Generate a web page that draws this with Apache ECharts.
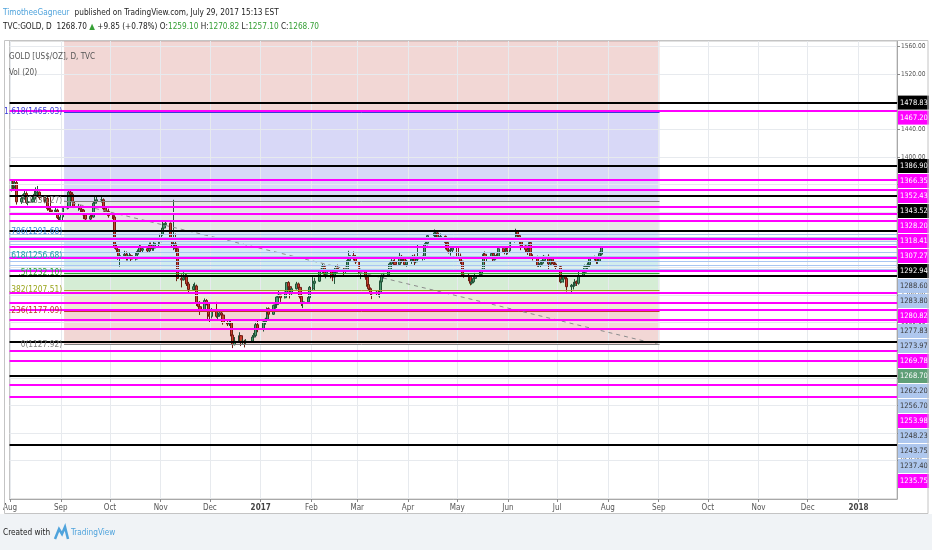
<!DOCTYPE html>
<html>
<head>
<meta charset="utf-8">
<title>TVC:GOLD, D</title>
<script src="https://cdn.jsdelivr.net/npm/echarts@6/dist/echarts.min.js"></script>
<style>
  html, body { margin: 0; padding: 0; background: #fff; }
  #chart { width: 932px; height: 550px; }
</style>
</head>
<body>
<div id="chart"></div>
<script>
// TVC:GOLD daily bars, Aug 2016 - Jul 2017
const dates = [
  '2016-08-02','2016-08-03','2016-08-04','2016-08-05','2016-08-08','2016-08-09','2016-08-10','2016-08-11','2016-08-12','2016-08-15','2016-08-16','2016-08-17','2016-08-18','2016-08-19','2016-08-22','2016-08-23','2016-08-24','2016-08-25','2016-08-26','2016-08-29','2016-08-30','2016-08-31',
  '2016-09-01','2016-09-02','2016-09-05','2016-09-06','2016-09-07','2016-09-08','2016-09-09','2016-09-12','2016-09-13','2016-09-14','2016-09-15','2016-09-16','2016-09-19','2016-09-20','2016-09-21','2016-09-22','2016-09-23','2016-09-26','2016-09-27','2016-09-28','2016-09-29','2016-09-30',
  '2016-10-03','2016-10-04','2016-10-05','2016-10-06','2016-10-07','2016-10-10','2016-10-11','2016-10-12','2016-10-13','2016-10-14','2016-10-17','2016-10-18','2016-10-19','2016-10-20','2016-10-21','2016-10-24','2016-10-25','2016-10-26','2016-10-27','2016-10-28','2016-10-31',
  '2016-11-01','2016-11-02','2016-11-03','2016-11-04','2016-11-07','2016-11-08','2016-11-09','2016-11-10','2016-11-11','2016-11-14','2016-11-15','2016-11-16','2016-11-17','2016-11-18','2016-11-21','2016-11-22','2016-11-23','2016-11-24','2016-11-25','2016-11-28','2016-11-29','2016-11-30',
  '2016-12-01','2016-12-02','2016-12-05','2016-12-06','2016-12-07','2016-12-08','2016-12-09','2016-12-12','2016-12-13','2016-12-14','2016-12-15','2016-12-16','2016-12-19','2016-12-20','2016-12-21','2016-12-22','2016-12-23','2016-12-27','2016-12-28','2016-12-29','2016-12-30',
  '2017-01-03','2017-01-04','2017-01-05','2017-01-06','2017-01-09','2017-01-10','2017-01-11','2017-01-12','2017-01-13','2017-01-16','2017-01-17','2017-01-18','2017-01-19','2017-01-20','2017-01-23','2017-01-24','2017-01-25','2017-01-26','2017-01-27','2017-01-30','2017-01-31',
  '2017-02-01','2017-02-02','2017-02-03','2017-02-06','2017-02-07','2017-02-08','2017-02-09','2017-02-10','2017-02-13','2017-02-14','2017-02-15','2017-02-16','2017-02-17','2017-02-21','2017-02-22','2017-02-23','2017-02-24','2017-02-27','2017-02-28',
  '2017-03-01','2017-03-02','2017-03-03','2017-03-06','2017-03-07','2017-03-08','2017-03-09','2017-03-10','2017-03-13','2017-03-14','2017-03-15','2017-03-16','2017-03-17','2017-03-20','2017-03-21','2017-03-22','2017-03-23','2017-03-24','2017-03-27','2017-03-28','2017-03-29','2017-03-30','2017-03-31',
  '2017-04-03','2017-04-04','2017-04-05','2017-04-06','2017-04-07','2017-04-10','2017-04-11','2017-04-12','2017-04-13','2017-04-17','2017-04-18','2017-04-19','2017-04-20','2017-04-21','2017-04-24','2017-04-25','2017-04-26','2017-04-27','2017-04-28',
  '2017-05-01','2017-05-02','2017-05-03','2017-05-04','2017-05-05','2017-05-08','2017-05-09','2017-05-10','2017-05-11','2017-05-12','2017-05-15','2017-05-16','2017-05-17','2017-05-18','2017-05-19','2017-05-22','2017-05-23','2017-05-24','2017-05-25','2017-05-26','2017-05-29','2017-05-30','2017-05-31',
  '2017-06-01','2017-06-02','2017-06-05','2017-06-06','2017-06-07','2017-06-08','2017-06-09','2017-06-12','2017-06-13','2017-06-14','2017-06-15','2017-06-16','2017-06-19','2017-06-20','2017-06-21','2017-06-22','2017-06-23','2017-06-26','2017-06-27','2017-06-28','2017-06-29','2017-06-30',
  '2017-07-03','2017-07-04','2017-07-05','2017-07-06','2017-07-07','2017-07-10','2017-07-11','2017-07-12','2017-07-13','2017-07-14','2017-07-17','2017-07-18','2017-07-19','2017-07-20','2017-07-21','2017-07-24','2017-07-25','2017-07-26','2017-07-27','2017-07-28'
];
const opens = [
  1352,1367,1357,1363,1335,1340,1340,1347,1334,1335,1339,1346,1349,1349,1341,1338,1340,1325,1323,1321,1323,1312,
  1308,1313,1326,1327,1349,1346,1335,1328,1328,1324,1323,1316,1310,1314,1313,1333,1336,1338,1338,1325,1322,1321,
  1315,1313,1269,1266,1253,1257,1259,1254,1254,1257,1252,1259,1263,1269,1265,1267,1264,1273,1267,1268,1275,
  1277,1288,1297,1302,1304,1280,1274,1274,1267,1224,1222,1225,1227,1216,1208,1212,1213,1188,1183,1179,1192,1189,
  1171,1169,1177,1169,1171,1174,1171,1160,1158,1160,1142,1128,1133,1141,1131,1133,1131,1133,1139,1141,1157,
  1151,1161,1165,1180,1172,1185,1186,1197,1200,1196,1203,1218,1212,1202,1209,1216,1211,1198,1189,1190,1196,
  1211,1209,1217,1220,1234,1236,1241,1230,1234,1227,1226,1233,1240,1238,1234,1237,1250,1257,1254,
  1248,1248,1233,1234,1226,1215,1209,1203,1202,1204,1203,1219,1227,1229,1234,1245,1249,1248,1244,1256,1252,1253,1244,
  1249,1252,1256,1248,1252,1254,1254,1273,1275,1286,1290,1290,1280,1283,1285,1276,1265,1264,1265,
  1268,1255,1256,1249,1229,1228,1227,1217,1219,1224,1228,1230,1236,1259,1253,1254,1260,1251,1257,1256,1267,1263,1262,
  1268,1264,1279,1280,1293,1286,1279,1271,1266,1263,1276,1255,1254,1243,1243,1246,1250,1256,1245,1251,1248,1245,
  1241,1219,1223,1226,1224,1212,1214,1214,1219,1217,1228,1233,1241,1241,1244,1254,1254,1249,1249,1259.10
];
const highs = [
  1368,1368,1366,1367,1343,1346,1352,1350,1344,1342,1353,1356,1358,1350,1343,1343,1342,1328,1342,1326,1325,1316,
  1318,1329,1331,1352,1351,1349,1341,1332,1330,1328,1324,1318,1317,1318,1335,1343,1342,1342,1340,1328,1327,1325,
  1318,1315,1274,1268,1266,1264,1263,1260,1262,1259,1261,1266,1273,1272,1270,1268,1276,1276,1272,1284,1279,
  1292,1306,1304,1308,1305,1289,1338,1289,1268,1230,1233,1231,1230,1219,1216,1218,1215,1190,1191,1195,1194,1191,
  1175,1181,1190,1175,1179,1178,1173,1164,1165,1164,1145,1139,1146,1142,1136,1135,1136,1142,1145,1161,1164,
  1163,1167,1182,1182,1186,1188,1198,1207,1200,1205,1218,1220,1213,1211,1219,1218,1213,1199,1192,1197,1213,
  1213,1226,1225,1236,1238,1245,1244,1236,1236,1233,1236,1243,1244,1240,1241,1252,1264,1263,1258,
  1252,1249,1238,1235,1230,1217,1211,1209,1206,1206,1221,1230,1232,1236,1247,1252,1251,1252,1261,1258,1256,1254,1251,
  1255,1258,1259,1255,1273,1257,1275,1279,1288,1295,1291,1291,1286,1289,1286,1279,1270,1268,1270,
  1270,1259,1260,1250,1237,1231,1228,1222,1226,1232,1236,1238,1261,1263,1257,1262,1262,1260,1260,1269,1268,1267,1270,
  1270,1281,1284,1296,1294,1288,1282,1272,1269,1281,1277,1259,1257,1247,1250,1253,1258,1259,1256,1253,1252,1247,
  1242,1225,1228,1228,1225,1216,1219,1223,1221,1234,1237,1244,1244,1247,1256,1257,1256,1252,1263,1270.82
];
const lows = [
  1350,1352,1354,1331,1332,1335,1338,1332,1330,1334,1337,1341,1344,1338,1333,1335,1322,1320,1318,1318,1310,1306,
  1306,1308,1324,1325,1342,1333,1326,1322,1320,1320,1310,1306,1308,1310,1312,1330,1333,1334,1321,1318,1316,1312,
  1310,1267,1262,1251,1241,1254,1250,1250,1252,1249,1250,1256,1261,1262,1262,1261,1262,1264,1264,1264,1270,
  1275,1286,1293,1297,1278,1271,1265,1262,1220,1211,1221,1220,1213,1203,1206,1207,1184,1180,1171,1178,1185,1165,
  1160,1166,1167,1164,1169,1166,1157,1155,1155,1140,1123,1127,1131,1126,1129,1124,1129,1131,1135,1139,1146,
  1147,1157,1163,1168,1171,1180,1181,1192,1190,1195,1201,1205,1195,1199,1208,1207,1195,1184,1181,1187,1195,
  1201,1207,1207,1219,1228,1232,1226,1224,1224,1220,1216,1232,1233,1229,1232,1235,1248,1250,1245,
  1240,1230,1223,1222,1212,1206,1200,1194,1199,1198,1196,1216,1224,1227,1231,1242,1244,1242,1243,1246,1248,1243,1241,
  1245,1250,1243,1246,1250,1250,1251,1269,1272,1281,1282,1277,1278,1280,1266,1263,1260,1257,1262,
  1253,1252,1245,1226,1225,1220,1214,1215,1217,1221,1226,1228,1235,1245,1249,1252,1248,1250,1252,1255,1261,1259,1258,
  1259,1262,1276,1279,1283,1272,1265,1261,1258,1260,1252,1250,1241,1240,1240,1244,1247,1237,1243,1244,1242,1237,
  1217,1218,1218,1220,1205,1204,1208,1212,1213,1215,1227,1232,1236,1234,1243,1250,1245,1245,1248,1257.10
];
const closes = [
  1367,1357,1363,1335,1340,1340,1347,1334,1335,1339,1346,1349,1349,1341,1338,1340,1325,1323,1321,1323,1312,1308,
  1313,1326,1327,1349,1346,1335,1328,1328,1324,1323,1316,1310,1314,1313,1333,1336,1338,1338,1325,1322,1321,1315,
  1313,1269,1266,1253,1257,1259,1254,1254,1257,1252,1259,1263,1269,1265,1267,1264,1273,1267,1268,1275,1277,
  1288,1297,1302,1304,1280,1274,1274,1267,1224,1222,1225,1227,1216,1208,1212,1213,1188,1183,1179,1192,1189,1171,
  1169,1177,1169,1171,1174,1171,1160,1158,1160,1142,1128,1133,1141,1131,1133,1131,1133,1139,1141,1157,1151,
  1161,1165,1180,1172,1185,1186,1197,1200,1196,1203,1218,1212,1202,1209,1216,1211,1198,1189,1190,1196,1211,
  1209,1217,1220,1234,1236,1241,1230,1234,1227,1226,1233,1240,1238,1234,1237,1250,1257,1254,1248,
  1248,1233,1234,1226,1215,1209,1203,1202,1204,1203,1219,1227,1229,1234,1245,1249,1248,1244,1256,1252,1253,1244,1249,
  1252,1256,1248,1252,1254,1254,1273,1275,1286,1290,1290,1280,1283,1285,1276,1265,1264,1265,1268,
  1255,1256,1249,1229,1228,1227,1217,1219,1224,1228,1230,1236,1259,1253,1254,1260,1251,1257,1256,1267,1263,1262,1268,
  1264,1279,1280,1293,1286,1279,1271,1266,1263,1276,1255,1254,1243,1243,1246,1250,1256,1245,1251,1248,1245,1241,
  1219,1223,1226,1224,1212,1214,1214,1219,1217,1228,1233,1241,1241,1244,1254,1254,1249,1249,1260,1268.70
];

// horizontal levels drawn on the chart
const blackLevels = [1478.83, 1386.90, 1343.52, 1292.94, 1227.40, 1132.20, 1083.00, 982.60];
const magentaLevels = [1467.20, 1366.35, 1352.43, 1328.20, 1318.41, 1307.27, 1280.82, 1269.78, 1253.98, 1235.75,
  1203.30, 1188.80, 1178.30, 1163.80, 1151.70, 1119.30, 1104.30, 1069.60, 1052.60];
const blueLevels = [1288.60, 1283.80, 1277.83, 1273.97, 1262.20, 1256.70, 1248.23, 1243.75, 1237.40];
const lastClose = 1268.70;

// fib retracement
const fibRatios = [0, 0.236, 0.382, 0.5, 0.618, 0.786, 1, 1.618, 2.618];
const fibLow = 1127.92;
const fibHigh = 1336.27;
const fibStart = '2016-09-03';
const fibEnd = '2017-09-01 12:00';

// axis ticks
const yTicks = [1560, 1520, 1480, 1440, 1400, 1360, 1320, 1280, 1240, 1200, 1160, 1120, 1080, 1040, 1000, 960];
const monthTicks = ['2016-08-01','2016-09-01','2016-10-01','2016-11-01','2016-12-01','2017-01-01','2017-02-01',
  '2017-03-01','2017-04-01','2017-05-01','2017-06-01','2017-07-01','2017-08-01','2017-09-01','2017-10-01',
  '2017-11-01','2017-12-01','2018-01-01'];
const monthNames = ['Jan','Feb','Mar','Apr','May','Jun','Jul','Aug','Sep','Oct','Nov','Dec'];

// pick the narrowest installed face, then size texts to the widths seen in the picture
const measureCtx = document.createElement('canvas').getContext('2d');
function hasFont(name) {
  const probe = 'mmmmmmmmmlli 1234567890';
  measureCtx.font = '20px monospace';
  const base = measureCtx.measureText(probe).width;
  measureCtx.font = '20px "' + name + '", monospace';
  return measureCtx.measureText(probe).width !== base;
}
const FAMILY = ['Liberation Sans Narrow', 'DejaVu Sans Condensed', 'Liberation Sans', 'Roboto'].find(hasFont) || 'sans-serif';
const FONT = '"' + FAMILY + '", sans-serif';
function fit(text, width, weight) {
  measureCtx.font = (weight || 'normal') + ' 20px ' + FONT;
  return Math.round(200 * width / measureCtx.measureText(text).width) / 10;
}
const fsHead = fit('TimotheeGagneur published on TradingView.com, July 29, 2017 15:13 EST', 272);
const fsPrice = fit('1478.83', 28);
const fsTick = fit('1560.00', 24.5);
const fsTime = fit('2017', 20, 'bold');
const fsFib = fit('1.618(1465.03)', 58);
const fsLegend = fit('GOLD [US$/OZ], D, TVC', 86);
const fsFoot = fit('Created with', 47);

const Y_MIN = 904.3, Y_MAX = 1568.1;
const X_MIN = '2016-07-31 17:00', X_MAX = '2018-01-24 12:00';
const LABEL_H = 15;

const T = s => +echarts.time.parse(s);
const monthTs = monthTicks.map(T);

const fibColors = ['#808080', '#c0392b', '#9aa51c', '#2ea52e', '#1ea5a5', '#3d8bd9', '#808080', '#3b3bd9', '#c0392b'];
const fibLevels = fibRatios.map(r => fibLow + r * (fibHigh - fibLow));
const ratioText = r => (r > 0 && r < 1) ? String(r).replace(/^0/, '') : String(r);

const levelItems = [].concat(
  blackLevels.map(v => ({ v, kind: 'black' })),
  magentaLevels.map(v => ({ v, kind: 'magenta' })),
  blueLevels.map(v => ({ v, kind: 'blue' })),
  [{ v: lastClose, kind: 'last' }]
);
const kindStyle = {
  black:   { line: '#000000', width: 2, bg: '#000000', fg: '#ffffff' },
  magenta: { line: '#ff00ff', width: 2, bg: '#ff00ff', fg: '#ffffff' },
  blue:    { line: '#a9c6f2', width: 1, bg: '#aec7ee', fg: '#3a3a3a' },
  last:    { line: 'rgba(0,0,0,0)', width: 1, bg: '#5f9f77', fg: '#ffffff' }
};

function levelLineData(shift) {
  return levelItems.map((it, i) => {
    const s = kindStyle[it.kind];
    const dy = shift ? shift[i] : null;
    return {
      yAxis: it.v,
      lineStyle: { color: s.line, width: s.width, type: 'solid' },
      label: {
        show: dy !== null,
        position: 'end',
        distance: 1,
        offset: [0, dy || 0],
        formatter: it.v.toFixed(2),
        backgroundColor: s.bg,
        color: s.fg,
        fontFamily: FONT,
        fontSize: fsPrice,
        lineHeight: 12,
        padding: [1, 1, 1, 2]
      }
    };
  });
}

const candleData = dates.map((d, i) => [T(d), opens[i], closes[i], lows[i], highs[i]]);

const bands = [];
for (let i = 1; i < fibLevels.length; i++) {
  bands.push([
    { xAxis: T(fibStart), yAxis: fibLevels[i - 1], itemStyle: { color: fibColors[i], opacity: 0.2 } },
    { xAxis: T(fibEnd), yAxis: Math.min(fibLevels[i], Y_MAX) }
  ]);
}
const fibLines = [];
fibLevels.forEach((lv, i) => {
  if (lv > Y_MAX) return;
  fibLines.push([
    {
      coord: [T(fibStart), lv],
      lineStyle: { color: fibColors[i], width: 1, type: 'solid' },
      label: {
        show: true, position: 'start', distance: 2,
        formatter: ratioText(fibRatios[i]) + '(' + lv.toFixed(2) + ')',
        color: fibColors[i], fontFamily: FONT, fontSize: fsFib
      }
    },
    { coord: [T(fibEnd), lv] }
  ]);
});
fibLines.push([
  { coord: [T(fibStart), fibHigh], lineStyle: { color: '#8c8c8c', width: 1, type: [4, 4] }, label: { show: false } },
  { coord: [T(fibEnd), fibLow] }
]);

const gridLines = yTicks.map(v => ({ yAxis: v })).concat(monthTs.map(t => ({ xAxis: t })));

const headStyle = c => ({ color: c, fontSize: fsHead, lineHeight: 14, fontWeight: 'normal', fontFamily: FONT });

const option = {
  animation: false,
  backgroundColor: '#ffffff',
  textStyle: { fontFamily: FONT },
  title: [
    {
      left: 3, top: 4, padding: 0,
      text: '{a|TimotheeGagneur} {b|published on TradingView.com, July 29, 2017 15:13 EST}',
      textStyle: { fontWeight: 'normal', rich: { a: headStyle('#4fa3dc'), b: headStyle('#222') } }
    },
    {
      left: 3, top: 20, padding: 0,
      text: '{b|TVC:GOLD, D  1268.70 }{g|▲}{b| +9.85 (+0.78%) O:}{g|1259.10}{b| H:}{g|1270.82}{b| L:}{g|1257.10}{b| C:}{g|1268.70}',
      textStyle: { fontWeight: 'normal', rich: { b: headStyle('#222'), g: headStyle('#37a037') } }
    },
    {
      left: 9, top: 49, padding: 0,
      text: 'GOLD [US$/OZ], D, TVC\nVol (20)',
      textStyle: { color: '#555', fontSize: fsLegend, fontWeight: 'normal', fontFamily: FONT, lineHeight: 16 }
    },
    {
      left: 3, top: 526, padding: 0,
      text: 'Created with',
      textStyle: { color: '#222', fontSize: fsFoot, lineHeight: 14, fontWeight: 'normal', fontFamily: FONT }
    },
    {
      left: 71, top: 526, padding: 0,
      text: 'TradingView',
      textStyle: { color: '#4fa3dc', fontSize: fsFoot, lineHeight: 14, fontWeight: 'normal', fontFamily: FONT }
    }
  ],
  graphic: [
    { type: 'rect', z: -10, shape: { x: 0, y: 514, width: 932, height: 36 }, style: { fill: '#f0f3f6' }, silent: true },
    { type: 'rect', z: 10, shape: { x: 4.5, y: 40.5, width: 923.5, height: 473 }, style: { fill: 'none', stroke: '#c4c4c4', lineWidth: 1 }, silent: true },
    { type: 'polyline', z: 10, shape: { points: [[55, 539], [59, 529], [62, 534], [65, 527], [68, 539]] },
      style: { stroke: '#4fa3dc', lineWidth: 2.5, fill: 'none' }, silent: true }
  ],
  grid: {
    left: 5, right: 35, top: 41, bottom: 51,
    show: true, borderColor: '#c4c4c4', borderWidth: 1, backgroundColor: '#ffffff'
  },
  xAxis: {
    type: 'value', min: T(X_MIN), max: T(X_MAX),
    axisLine: { show: true, lineStyle: { color: '#a8a8a8' } },
    axisTick: { show: true, length: 3, customValues: monthTs, lineStyle: { color: '#888' } },
    axisLabel: {
      customValues: monthTs, margin: 5, color: '#555', fontSize: fsTime, fontFamily: FONT, hideOverlap: false,
      formatter: v => {
        const d = new Date(v);
        return d.getMonth() === 0 ? '{y|' + d.getFullYear() + '}' : monthNames[d.getMonth()];
      },
      rich: { y: { fontWeight: 'bold', color: '#444', fontSize: fsTime, fontFamily: FONT } }
    },
    splitLine: { show: false }
  },
  yAxis: {
    type: 'value', position: 'right', min: Y_MIN, max: Y_MAX,
    axisLine: { show: true, lineStyle: { color: '#a8a8a8' } },
    axisTick: { show: true, length: 3, customValues: yTicks, lineStyle: { color: '#888' } },
    axisLabel: {
      customValues: yTicks, margin: 4, color: '#555', fontSize: fsTick, fontFamily: FONT,
      formatter: v => v.toFixed(2)
    },
    splitLine: { show: false }
  },
  series: [
    {
      id: 'grid', type: 'line', data: [], z: 1, silent: true,
      markLine: {
        silent: true, symbol: ['none', 'none'], label: { show: false },
        lineStyle: { color: '#e7eaee', width: 1, type: 'solid' },
        data: gridLines
      }
    },
    {
      id: 'fib', type: 'line', data: [], z: 2, silent: true,
      markArea: { silent: true, data: bands },
      markLine: { silent: true, symbol: ['none', 'none'], data: fibLines }
    },
    {
      id: 'levels', type: 'line', data: [], z: 3, silent: true,
      markLine: { silent: true, symbol: ['none', 'none'], data: levelLineData(null) }
    },
    {
      id: 'gold', type: 'candlestick', z: 4, data: candleData,
      barWidth: 2.6,
      itemStyle: {
        color: '#4f9a72', color0: '#c9402f',
        borderColor: '#1f5236', borderColor0: '#6e1c12', borderWidth: 1
      }
    }
  ]
};

const chart = echarts.init(document.getElementById('chart'));
chart.setOption(option);

// stack the price labels on the right scale so they do not overlap
const bottomY = chart.convertToPixel({ yAxisIndex: 0 }, Y_MIN);
const order = levelItems.map((it, i) => i).sort((a, b) => levelItems[b].v - levelItems[a].v);
const shift = new Array(levelItems.length).fill(null);
let prev = -Infinity;
order.forEach(i => {
  const py = chart.convertToPixel({ yAxisIndex: 0 }, levelItems[i].v);
  const y = Math.max(py, prev + LABEL_H);
  prev = y;
  shift[i] = (y > bottomY - 5) ? null : y - py;
});
chart.setOption({ series: [{ id: 'levels', markLine: { data: levelLineData(shift) } }] });
</script>
</body>
</html>
